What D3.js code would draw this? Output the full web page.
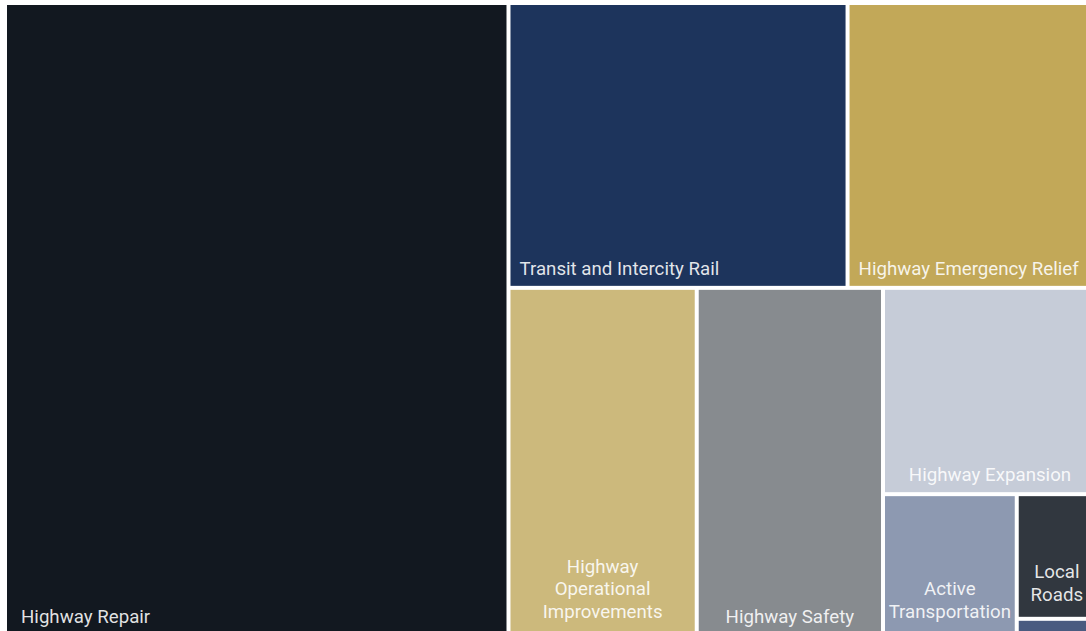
<!DOCTYPE html>
<html>
<head>
<meta charset="utf-8">
<script src="https://cdn.jsdelivr.net/npm/d3@7"></script>
<style>
  body { margin: 0; background: #fff; }
  svg { display: block; }
</style>
</head>
<body>
<svg id="chart"></svg>
<script>
// share of spending, percent
const categories = [
  "Highway Repair",
  "Transit and Intercity Rail",
  "Highway Emergency Relief",
  "Highway Operational Improvements",
  "Highway Safety",
  "Highway Expansion",
  "Active Transportation",
  "Local Roads",
  "Other"
];
const shares = [46.2, 14.0, 10.3, 9.5, 9.4, 6.4, 2.75, 1.45, 0.2];
const colors = [
  "#121820", "#1d345c", "#c2a858", "#ccb97c", "#878b8f",
  "#c6ccd8", "#8d99b1", "#31373f", "#4a5b80"
];

const width = 1086, height = 631;
const margin = { top: 5, left: 7 };
const mapWidth = 1088, mapHeight = 629;

const svg = d3.select("#chart").attr("width", width).attr("height", height);

const color = d3.scaleOrdinal().domain(categories).range(colors);

const root = d3.hierarchy({ children: categories.map((c, i) => ({ name: c, value: shares[i] })) })
    .sum(d => d.value || 0)
    .sort((a, b) => b.value - a.value);

d3.treemap()
    .tile(d3.treemapBinary)
    .size([mapWidth, mapHeight])
    .paddingInner(4)(root);

const g = svg.append("g").attr("transform", `translate(${margin.left},${margin.top})`);

const cell = g.selectAll("g")
    .data(root.leaves())
    .join("g")
    .attr("transform", d => `translate(${d.x0},${d.y0})`);

cell.append("rect")
    .attr("width", d => d.x1 - d.x0)
    .attr("height", d => d.y1 - d.y0)
    .attr("fill", d => color(d.data.name));

const lineHeight = 22.5;

cell.each(function (d) {
    if (d.data.name === "Other") return;
    const w = d.x1 - d.x0, h = d.y1 - d.y0;
    const topRow = d.y0 < 1;
    const text = d3.select(this).append("text")
        .attr("font-family", "Roboto, sans-serif")
        .attr("font-size", 18.7)
        .attr("fill", "#fff")
        .attr("fill-opacity", 0.88);

    // try one line first, else one word per line
    let lines = [d.data.name];
    text.text(d.data.name);
    if (text.node().getComputedTextLength() > w - 16) lines = d.data.name.split(" ");
    text.text(null);

    const bottom = h - (lines.length > 1 ? 16 : 11);
    const x = topRow ? (d.x0 < 1 ? 14 : 9) : w / 2;
    text.attr("text-anchor", topRow ? "start" : "middle");
    text.selectAll("tspan")
        .data(lines)
        .join("tspan")
        .attr("x", x)
        .attr("y", (l, i) => bottom - (lines.length - 1 - i) * lineHeight)
        .text(l => l);
});
</script>
</body>
</html>
